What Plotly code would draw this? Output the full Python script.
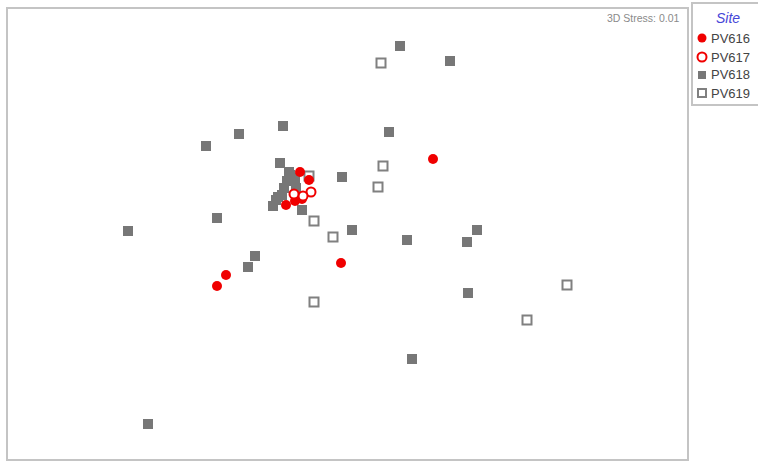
import plotly.graph_objects as go

# NMDS coordinates per site
pv616_x = [0.83, -0.09, -1.24, -1.33, -0.50, -0.41, -0.64, -0.55, -0.48]
pv616_y = [0.91, -0.13, -0.25, -0.36, 0.78, 0.70, 0.45, 0.49, 0.51]

pv617_x = [-0.39, -0.47, -0.56]
pv617_y = [0.58, 0.54, 0.56]

pv618_x = [0.50, 1.00, -0.67, -1.11, -1.44, 0.39, -0.70, -0.08, -1.33, -2.22,
           0.02, 0.57, 1.27, 1.17, -0.95, -1.02, 1.18, 0.62, -2.02,
           -0.60, -0.63, -0.66, -0.72, -0.77, -0.48, -0.57, -0.54, -0.61, -0.55, -0.68, -0.74]
pv618_y = [2.04, 1.89, 1.24, 1.16, 1.04, 1.18, 0.87, 0.73, 0.32, 0.19,
           0.20, 0.10, 0.20, 0.08, -0.06, -0.17, -0.43, -1.09, -1.74,
           0.75, 0.69, 0.62, 0.53, 0.44, 0.40, 0.70, 0.62, 0.78, 0.72, 0.55, 0.50]

pv619_x = [0.31, 0.33, 0.28, -0.36, -0.17, -0.36, 2.17, 1.77, -0.41]
pv619_y = [1.87, 0.84, 0.63, 0.29, 0.13, -0.52, -0.35, -0.70, 0.74]

sites = ["PV616", "PV617", "PV618", "PV619"]
stress_label = "3D Stress: 0.01"

W, H = 758, 461
L, R, T, B = 7, 70, 8, 1
PX0, PX1 = L, W - R
PY0, PY1 = T, H - B

def px2x(p):
    return (p - PX0) / (PX1 - PX0)

def py2y(q):
    return (PY1 - q) / (PY1 - PY0)

RED = "#f00000"
GRAY = "#777777"

fig = go.Figure()
fig.add_trace(go.Scatter(x=pv618_x, y=pv618_y, mode="markers", name=sites[2],
                         marker=dict(symbol="square", size=10, color=GRAY, line=dict(width=0))))
fig.add_trace(go.Scatter(x=pv619_x, y=pv619_y, mode="markers", name=sites[3],
                         marker=dict(symbol="square", size=9, color="white",
                                     line=dict(width=2, color="#808080"))))
fig.add_trace(go.Scatter(x=pv616_x, y=pv616_y, mode="markers", name=sites[0],
                         marker=dict(symbol="circle", size=10, color=RED, line=dict(width=0))))
fig.add_trace(go.Scatter(x=pv617_x, y=pv617_y, mode="markers", name=sites[1],
                         marker=dict(symbol="circle", size=9, color="white",
                                     line=dict(width=2, color=RED))))

shapes = []
# plot frame
shapes.append(dict(type="rect", xref="paper", yref="paper", x0=0, x1=1, y0=0, y1=1,
                   line=dict(color="#c4c4c4", width=2), layer="above"))
# legend box
shapes.append(dict(type="rect", xref="paper", yref="paper",
                   x0=px2x(692), x1=px2x(762), y0=py2y(105), y1=py2y(3),
                   line=dict(color="#c4c4c4", width=2)))

annotations = [
    dict(text=stress_label, xref="paper", yref="paper", x=px2x(682), y=py2y(18),
         xanchor="right", yanchor="middle", showarrow=False,
         font=dict(size=10.5, color="#8a8a8a", family="Liberation Sans")),
    dict(text="<i>Site</i>", xref="paper", yref="paper", x=px2x(728), y=py2y(18),
         xanchor="center", yanchor="middle", showarrow=False,
         font=dict(size=14, color="#4646d8", family="Liberation Sans")),
]

leg_y = [38, 57, 75, 93]
leg_sym = [("circle", RED, RED), ("circle", "white", RED),
           ("rect", GRAY, GRAY), ("rect", "white", "#808080")]
for name, yy, (typ, fill, lc) in zip(sites, leg_y, leg_sym):
    s = 4.5 if typ == "circle" else 4
    shapes.append(dict(type=typ, xref="paper", yref="paper",
                       xsizemode="pixel", ysizemode="pixel",
                       xanchor=px2x(702), yanchor=py2y(yy),
                       x0=-s, x1=s, y0=-s, y1=s,
                       fillcolor=fill,
                       line=dict(color=lc, width=2 if fill == "white" else 0)))
    annotations.append(dict(text=name, xref="paper", yref="paper", x=px2x(709), y=py2y(yy),
                            xanchor="left", yanchor="middle", showarrow=False,
                            font=dict(size=13, color="#444444", family="Liberation Sans")))

fig.update_layout(
    width=W, height=H,
    margin=dict(l=L, r=R, t=T, b=B),
    paper_bgcolor="white", plot_bgcolor="white",
    showlegend=False,
    shapes=shapes, annotations=annotations,
    xaxis=dict(range=[-3.43, 3.38], showgrid=False, zeroline=False,
               showticklabels=False, ticks="", fixedrange=True),
    yaxis=dict(range=[-2.10, 2.42], showgrid=False, zeroline=False,
               showticklabels=False, ticks="", fixedrange=True),
)

fig.write_html("out.html", config={"displayModeBar": False},
               post_script="document.body.style.margin='0';")
